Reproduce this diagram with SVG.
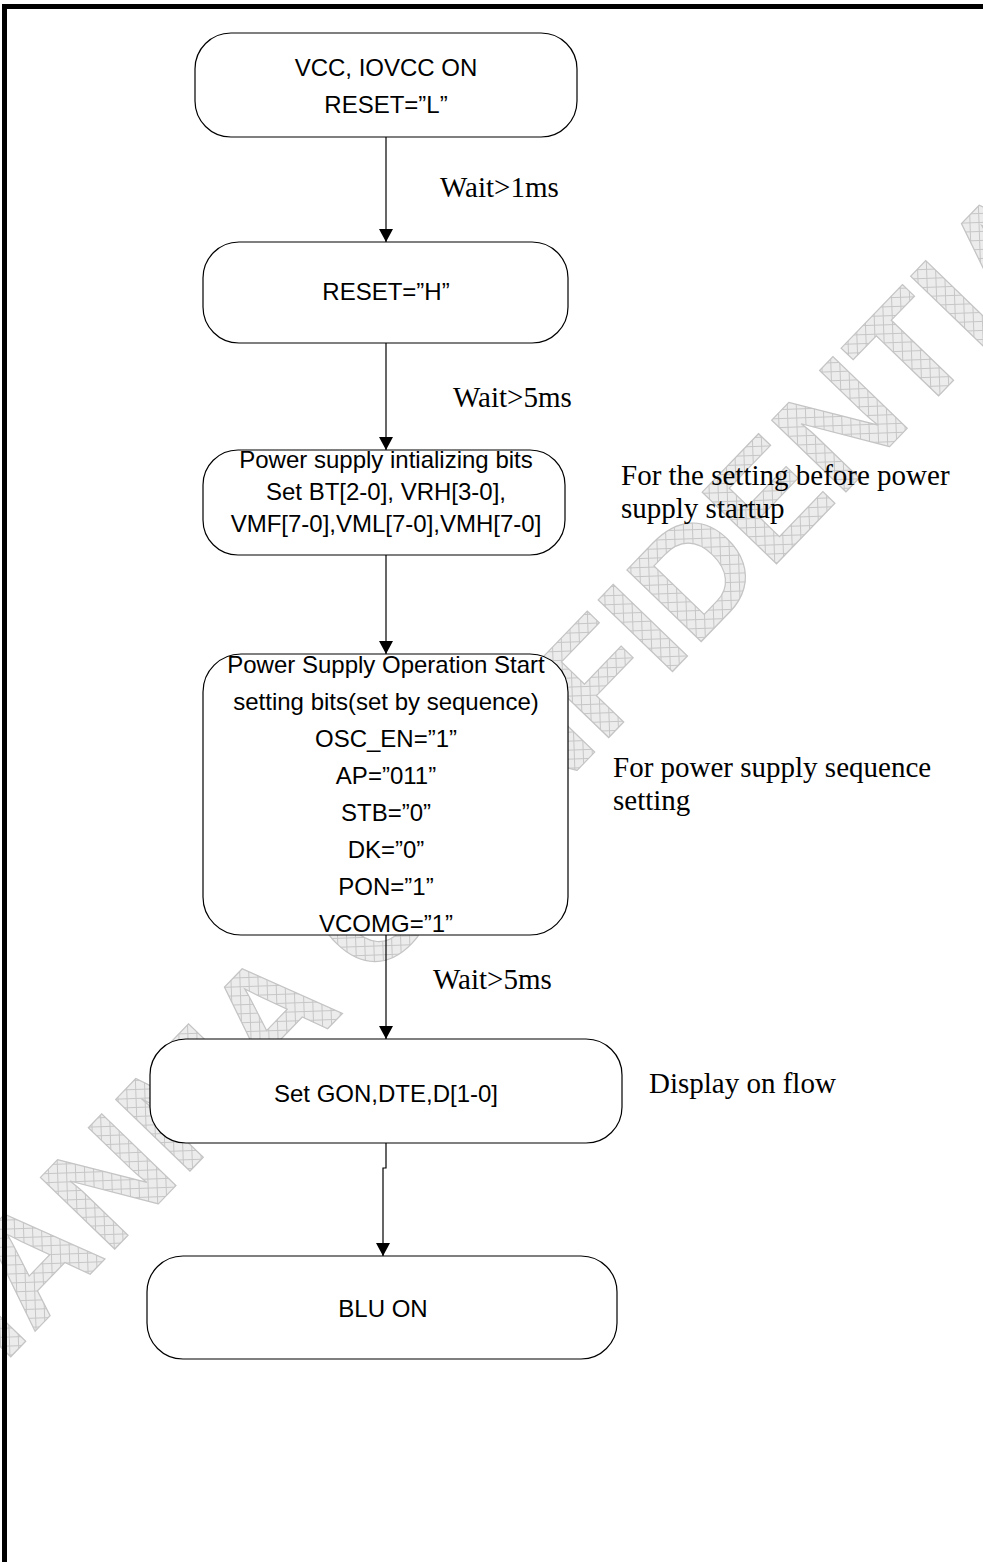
<svg xmlns="http://www.w3.org/2000/svg" width="983" height="1562" viewBox="0 0 983 1562">
<style>
.box{fill:#fff;stroke:#000;stroke-width:1.2}
.t{font-family:"Liberation Sans",Arial,sans-serif;font-size:24px;text-anchor:middle;fill:#000}
.n{font-family:"Liberation Serif","Times New Roman",serif;font-size:29px;fill:#000}
.conn{stroke:#000;stroke-width:1.2;fill:none;marker-end:url(#arr)}
.wm{font-family:"Liberation Sans",Arial,sans-serif;font-weight:bold;font-size:150px;fill:url(#hatch);stroke:#c4c4c4;stroke-width:1.2}
</style>
<defs>
<marker id="arr" markerUnits="userSpaceOnUse" markerWidth="13" markerHeight="14" viewBox="0 0 13 14" refX="13" refY="7" orient="auto">
<path d="M0,0 L13,7 L0,14 z" fill="#000"/>
</marker>
<pattern id="hatch" width="9" height="9" patternUnits="userSpaceOnUse" patternTransform="rotate(-46)">
<rect width="9" height="9" fill="#ececec"/>
<path d="M0,0.5H9M0.5,0V9" stroke="#c6c6c6" stroke-width="1"/>
</pattern>
</defs>
<rect width="983" height="1562" fill="#fff"/>
<g id="watermark">
<text class="wm" transform="translate(-60,1430) rotate(-46)">TIANMA CONFIDENTIAL</text>
</g>
<path d="M4.5,1562 V6.5 H983" fill="none" stroke="#000" stroke-width="5"/>
<g id="connectors">
<line class="conn" x1="386" y1="137" x2="386" y2="242"/>
<line class="conn" x1="386" y1="343" x2="386" y2="450"/>
<line class="conn" x1="386" y1="555" x2="386" y2="654"/>
<line class="conn" x1="386" y1="935" x2="386" y2="1039"/>
<path class="conn" d="M386,1143 V1168 H383 V1256"/>
</g>
<g id="n1">
<rect class="box" x="195" y="33" width="382" height="104" rx="36"/>
<text class="t" x="386" y="76">VCC, IOVCC ON</text>
<text class="t" x="386" y="113">RESET=”L”</text>
</g>
<g id="n2">
<rect class="box" x="203" y="242" width="365" height="101" rx="36"/>
<text class="t" x="386" y="300">RESET=”H”</text>
</g>
<g id="n3">
<rect class="box" x="203" y="450" width="362" height="105" rx="35"/>
<text class="t" x="386" y="468">Power supply intializing bits</text>
<text class="t" x="386" y="500">Set BT[2-0], VRH[3-0],</text>
<text class="t" x="386" y="532">VMF[7-0],VML[7-0],VMH[7-0]</text>
</g>
<g id="n4">
<rect class="box" x="203" y="654" width="365" height="281" rx="38"/>
<text class="t" x="386" y="673">Power Supply Operation Start</text>
<text class="t" x="386" y="710">setting bits(set by sequence)</text>
<text class="t" x="386" y="747">OSC_EN=”1”</text>
<text class="t" x="386" y="784">AP=”011”</text>
<text class="t" x="386" y="821">STB=”0”</text>
<text class="t" x="386" y="858">DK=”0”</text>
<text class="t" x="386" y="895">PON=”1”</text>
<text class="t" x="386" y="932">VCOMG=”1”</text>
</g>
<g id="n5">
<rect class="box" x="150" y="1039" width="472" height="104" rx="36"/>
<text class="t" x="386" y="1102">Set GON,DTE,D[1-0]</text>
</g>
<g id="n6">
<rect class="box" x="147" y="1256" width="470" height="103" rx="36"/>
<text class="t" x="383" y="1317">BLU ON</text>
</g>
<g id="labels">
<text class="n" x="440" y="197">Wait&gt;1ms</text>
<text class="n" x="453" y="407">Wait&gt;5ms</text>
<text class="n" x="433" y="989">Wait&gt;5ms</text>
<text class="n" x="621" y="485">For the setting before power</text>
<text class="n" x="621" y="518">supply startup</text>
<text class="n" x="613" y="777">For power supply sequence</text>
<text class="n" x="613" y="810">setting</text>
<text class="n" x="649" y="1093">Display on flow</text>
</g>
</svg>
